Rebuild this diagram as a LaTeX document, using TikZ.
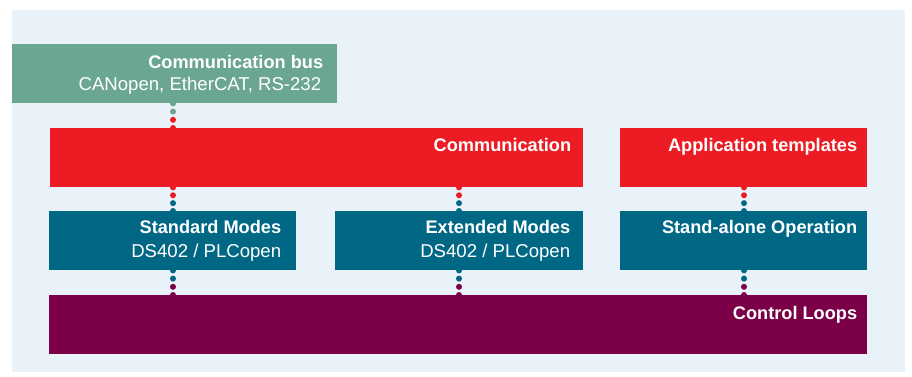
\documentclass[tikz,border=0pt]{standalone}
\usepackage{fontspec}
\setmainfont{Liberation Sans}
\usetikzlibrary{calc}
\definecolor{bgc}{RGB}{234,242,249}
\definecolor{busc}{RGB}{107,166,145}
\definecolor{redc}{RGB}{237,28,36}
\definecolor{tealc}{RGB}{0,104,133}
\definecolor{purc}{RGB}{124,0,72}
\tikzset{
  box/.style={draw=none, rectangle, anchor=north west, inner sep=0pt, minimum height=59pt},
  ttl/.style={text=white, font=\fontsize{18.2}{22}\selectfont\bfseries, inner sep=0pt, anchor=base east},
  sub/.style={text=white, font=\fontsize{18.6}{22}\selectfont, inner sep=0pt, anchor=base east},
  dotc/.style={radius=3pt}
}
\newcommand{\dotlink}[5]{% from, to, column, colour from, colour to
  \fill[#4] ($(#3|-#1.south)$) circle[dotc];
  \fill[#4] ($(#3|-#1.south)!0.333!(#3|-#2.north)$) circle[dotc];
  \fill[#5] ($(#3|-#1.south)!0.667!(#3|-#2.north)$) circle[dotc];
  \fill[#5] ($(#3|-#2.north)$) circle[dotc];
}
\begin{document}
\begin{tikzpicture}[x=1pt,y=-1pt]
\useasboundingbox (0,0) rectangle (912,376);
\fill[bgc] (12,10) rectangle (905,372);
% boxes
\node[box, fill=busc, minimum width=325pt] (bus) at (12,44) {};
\node[box, fill=redc, minimum width=533pt] (comm) at (50,128) {};
\node[box, fill=redc, minimum width=247pt] (app) at (620,128) {};
\node[box, fill=tealc, minimum width=247pt] (std) at (49,211) {};
\node[box, fill=tealc, minimum width=248pt] (ext) at (335,211) {};
\node[box, fill=tealc, minimum width=247pt] (alone) at (620,211) {};
\node[box, fill=purc, minimum width=818pt] (ctrl) at (49,295) {};
% columns
\coordinate (c1) at (173,0);
\coordinate (c2) at (459,0);
\coordinate (c3) at (744,0);
% connectors
\dotlink{bus}{comm}{c1}{busc}{redc}
\dotlink{comm}{std}{c1}{redc}{tealc}
\dotlink{comm}{ext}{c2}{redc}{tealc}
\dotlink{app}{alone}{c3}{redc}{tealc}
\dotlink{std}{ctrl}{c1}{tealc}{purc}
\dotlink{ext}{ctrl}{c2}{tealc}{purc}
\dotlink{alone}{ctrl}{c3}{tealc}{purc}
% texts
\node[ttl] (busT) at ([xshift=-14pt,yshift=-24pt]bus.north east) {Communication bus};
\node[sub] (busS) at ([xshift=-16pt,yshift=-46pt]bus.north east) {CANopen, EtherCAT, RS-232};
\node[ttl] (commT) at ([xshift=-12pt,yshift=-23pt]comm.north east) {Communication};
\node[ttl] (appT) at ([xshift=-10pt,yshift=-23pt]app.north east) {Application templates};
\node[ttl] (stdT) at ([xshift=-15pt,yshift=-22pt]std.north east) {Standard Modes};
\node[sub] (stdS) at ([xshift=-15pt,yshift=-46pt]std.north east) {DS402 / PLCopen};
\node[ttl] (extT) at ([xshift=-13pt,yshift=-22pt]ext.north east) {Extended Modes};
\node[sub] (extS) at ([xshift=-13pt,yshift=-46pt]ext.north east) {DS402 / PLCopen};
\node[ttl] (aloneT) at ([xshift=-10pt,yshift=-22pt]alone.north east) {Stand-alone Operation};
\node[ttl] (ctrlT) at ([xshift=-10pt,yshift=-24pt]ctrl.north east) {Control Loops};
\end{tikzpicture}
\end{document}
